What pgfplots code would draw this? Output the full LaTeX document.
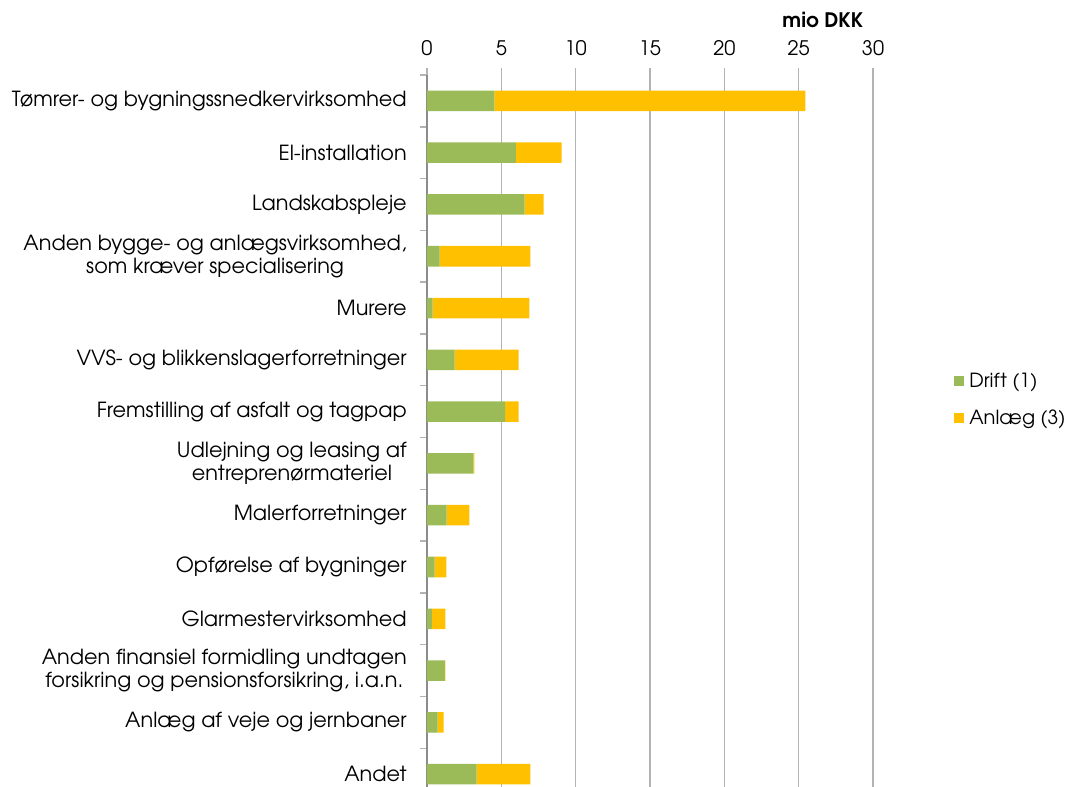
\documentclass[border=0pt]{standalone}
\usepackage{fontspec}
\setmainfont{TeX Gyre Adventor}
\usepackage{pgfplots}
\usepackage{pgfplotstable}
\pgfplotsset{compat=1.18}
\definecolor{drift}{HTML}{9BBB59}
\definecolor{anlaeg}{HTML}{FFC000}
\definecolor{gridc}{HTML}{B3B3B3}
\definecolor{axc}{HTML}{8C8C8C}
\pgfplotstableread{
idx drift anlaeg
0 4.53 20.92
1 5.97 3.09
2 6.57 1.28
3 0.85 6.10
4 0.38 6.50
5 1.86 4.31
6 5.25 0.92
7 3.12 0.07
8 1.32 1.53
9 0.52 0.78
10 0.32 0.92
11 1.21 0.03
12 0.72 0.40
13 3.34 3.61
}\datatable
\begin{document}
\begin{tikzpicture}
\useasboundingbox (0,0) rectangle (803.25pt,-589.5pt);
\begin{axis}[
  at={(320.25pt,-56.25pt)}, anchor=north west,
  scale only axis, width=334.5pt, height=543.75pt,
  xbar stacked, bar width=15.4pt,
  xmin=0, xmax=30, ymin=-0.5, ymax=13.5, y dir=reverse,
  axis x line*=top, axis y line*=left,
  x axis line style={draw=none},
  y axis line style={draw=axc, line width=1.1pt},
  xtick={0,5,...,30},
  xmajorgrids, grid style={gridc, line width=1.1pt},
  tick align=outside, major tick length=5.25pt, minor tick length=5.25pt,
  xtick style={draw=gridc, line width=1.1pt},
  ytick={0,...,13},
  minor ytick={-0.5,0.5,...,13.5},
  every major y tick/.append style={draw=none},
  every minor y tick/.append style={draw=gridc, line width=1.1pt},
  /pgf/number format/assume math mode=true,
  xticklabel style={anchor=south, inner sep=0pt, yshift=9pt, font=\fontsize{15}{18}\selectfont},
  yticklabel style={anchor=east, inner sep=0pt, xshift=-9.75pt, align=center, font=\fontsize{15.6}{17.5}\selectfont},
  yticklabels={
    Tømrer- og bygningssnedkervirksomhed,
    El-installation,
    Landskabspleje,
    {Anden bygge- og anlægsvirksomhed,\\som kræver specialisering},
    Murere,
    VVS- og blikkenslagerforretninger,
    Fremstilling af asfalt og tagpap,
    {Udlejning og leasing af\\entreprenørmateriel\ },
    Malerforretninger,
    Opførelse af bygninger,
    Glarmestervirksomhed,
    {Anden finansiel formidling undtagen\\forsikring og pensionsforsikring, i.a.n.},
    Anlæg af veje og jernbaner,
    Andet},
  legend style={at={(1.172,0.552)}, anchor=west, draw=none, fill=none,
    font=\fontsize{14.6}{17}\selectfont, row sep=11pt,
    /tikz/every odd column/.append style={column sep=2pt}},
  legend cell align=left,
  legend image code/.code={\fill[#1,draw=none] (0pt,-3.75pt) rectangle (7.5pt,3.75pt);},
]
\addplot[fill=drift, draw=none] table[x=drift, y=idx] {\datatable};
\addplot[fill=anlaeg, draw=none] table[x=anlaeg, y=idx] {\datatable};
\legend{Drift (1), Anlæg (3)}
\end{axis}
\node[font=\bfseries\fontsize{15}{18}\selectfont, anchor=east] at (651pt,-15pt) {mio DKK};
\end{tikzpicture}
\end{document}
